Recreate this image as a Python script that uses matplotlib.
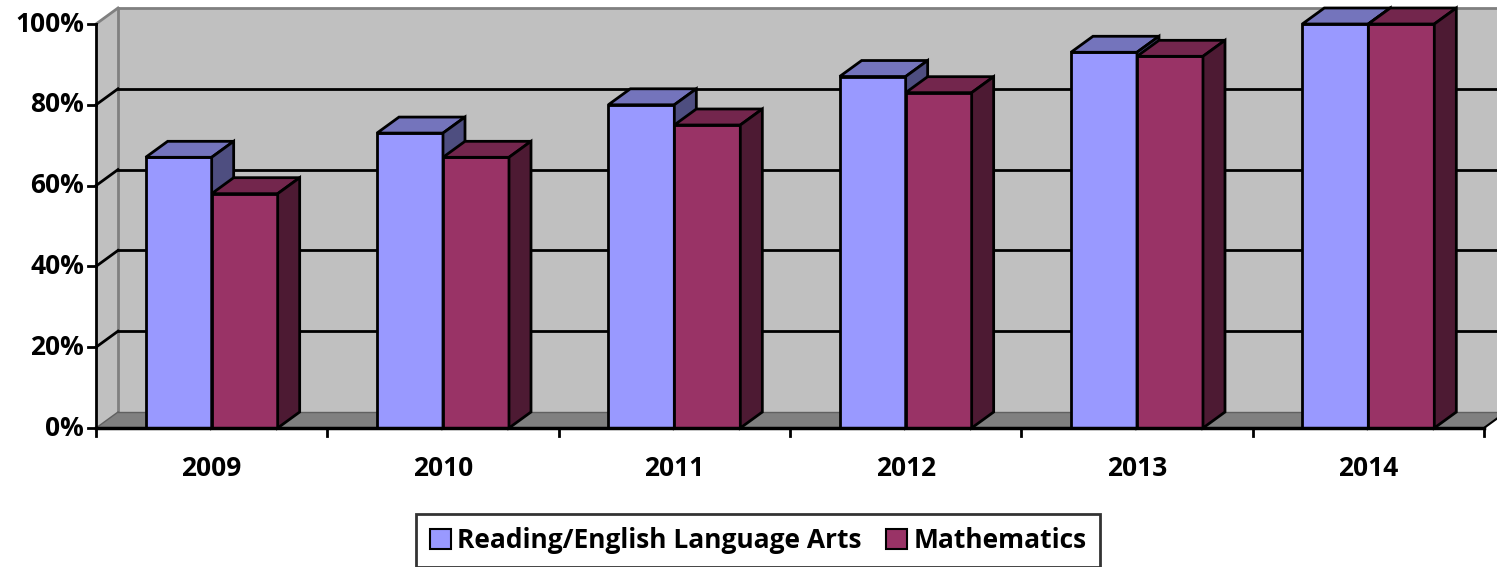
import matplotlib
matplotlib.use("Agg")
from matplotlib import pyplot as plt
from matplotlib.patches import Polygon, Patch

# data (percent)
years = ["2009", "2010", "2011", "2012", "2013", "2014"]
reading = [67, 73, 80, 87, 93, 100]
math = [58, 67, 75, 83, 92, 100]
series_names = ["Reading/English Language Arts", "Mathematics"]
y_ticks = [0, 20, 40, 60, 80, 100]

# colours: front, top, side
blue = ("#9999FF", "#7474BC", "#4E4E80")
red = ("#993366", "#73264D", "#4D1A33")
wall = "#C0C0C0"
floor = "#808080"

plt.rcParams["font.family"] = ["Open Sans", "DejaVu Sans"]
plt.rcParams["font.weight"] = "bold"

W, H = 1497, 567
fig = plt.figure(figsize=(W / 100, H / 100), dpi=100)
ax = fig.add_axes([0, 0, 1, 1])

# layout: pixel scales of the plot area
x0_px, cat_px = 96, 231.33
y0_px, pct_px = 428, 4.04
ax.set_xlim(-0.5 - x0_px / cat_px, -0.5 + (W - x0_px) / cat_px)
ax.set_ylim(-(H - y0_px) / pct_px, y0_px / pct_px)
ax.axis("off")

n = len(years)
DX = 22 / cat_px   # depth offset in category units
DY = 16 / pct_px   # depth offset in percent units
left, right = -0.5, n - 0.5
bw = 66 / cat_px   # bar width
fs = 19

# back wall
ax.add_patch(Polygon([(left + DX, DY), (right + DX, DY), (right + DX, 100 + DY),
                      (left + DX, 100 + DY)], closed=True, fc=wall, ec="none", zorder=1))
# left wall
ax.add_patch(Polygon([(left, 0), (left + DX, DY), (left + DX, 100 + DY), (left, 100)],
                     closed=True, fc=wall, ec="none", zorder=1))
# floor
ax.add_patch(Polygon([(left, 0), (right, 0), (right + DX, DY), (left + DX, DY)],
                     closed=True, fc=floor, ec="none", zorder=1))

# wall edges (gray)
ax.plot([left + DX, left + DX], [DY, 100 + DY], color="#808080", lw=2, zorder=2)
ax.plot([left + DX, right + DX + 1], [100 + DY, 100 + DY], color="#808080", lw=2, zorder=2)
ax.plot([left, left + DX], [100, 100 + DY], color="#808080", lw=2, zorder=2)
ax.plot([left + DX, right + DX], [DY, DY], color="#606060", lw=1, zorder=2)
ax.plot([left, left + DX], [0, DY], color="#606060", lw=1, zorder=2)

# gridlines
for v in y_ticks[1:-1]:
    ax.plot([left + DX, right + DX + 1], [v + DY, v + DY], color="black", lw=2, zorder=2)
    ax.plot([left, left + DX], [v, v + DY], color="black", lw=2, zorder=2)


def bar3d(xl, h, cols, z):
    xr = xl + bw
    ax.add_patch(Polygon([(xl, 0), (xr, 0), (xr, h), (xl, h)], closed=True,
                         fc=cols[0], ec="black", lw=2, joinstyle="miter", zorder=z))
    ax.add_patch(Polygon([(xl, h), (xr, h), (xr + DX, h + DY), (xl + DX, h + DY)], closed=True,
                         fc=cols[1], ec="black", lw=2, joinstyle="miter", zorder=z))
    ax.add_patch(Polygon([(xr, 0), (xr + DX, DY), (xr + DX, h + DY), (xr, h)], closed=True,
                         fc=cols[2], ec="black", lw=2, joinstyle="miter", zorder=z))


for i in range(n):
    bar3d(i - bw, reading[i], blue, 3 + 2 * i)
    bar3d(i, math[i], red, 4 + 2 * i)

# axes lines and ticks
ax.plot([left, left], [0, 100], color="black", lw=2, zorder=20)
ax.plot([left, right], [0, 0], color="black", lw=2.5, zorder=20)
ax.plot([right, right + DX], [0, DY], color="black", lw=1.5, zorder=20)
tk_x = 8 / cat_px
tk_y = 8 / pct_px
for v in y_ticks:
    ax.plot([left - tk_x, left], [v, v], color="black", lw=2, zorder=20)
    ax.text(left - 12 / cat_px, v, f"{v}%", ha="right", va="center", fontsize=fs,
            fontweight="bold")
for k in range(n + 1):
    ax.plot([left + k, left + k], [0, -tk_y], color="black", lw=2, zorder=20)
for i, yr in enumerate(years):
    ax.text(i, -40 / pct_px, yr, ha="center", va="center", fontsize=fs, fontweight="bold")

handles = [Patch(fc=blue[0], ec="black", lw=1.5), Patch(fc=red[0], ec="black", lw=1.5)]
leg = fig.legend(handles, series_names, loc="upper center", ncol=2,
                 bbox_to_anchor=(758 / W, 1 - 514 / H), fontsize=fs, frameon=True,
                 fancybox=False, handlelength=0.8, handleheight=0.8, handletextpad=0.25,
                 columnspacing=0.9, borderpad=0.5, borderaxespad=0)
leg.get_frame().set_edgecolor("black")
leg.get_frame().set_linewidth(2)
for t in leg.get_texts():
    t.set_fontweight("bold")

fig.savefig("out.png", dpi=100)
